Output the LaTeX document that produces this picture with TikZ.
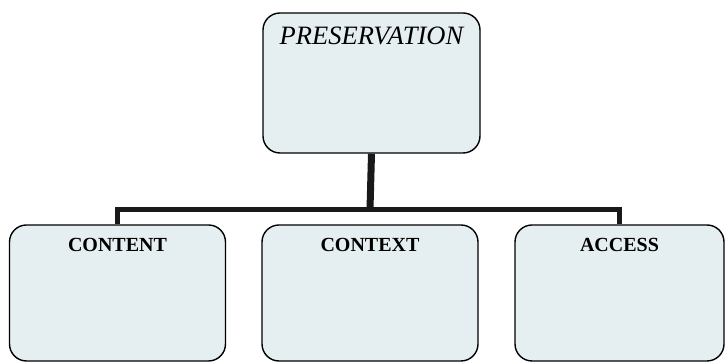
\documentclass[tikz,border=0pt]{standalone}
\usepackage{fontspec}
\setmainfont{Liberation Serif}
\usetikzlibrary{positioning}
\definecolor{boxfill}{RGB}{229,239,241}
\begin{document}
\begin{tikzpicture}[x=1pt,y=1pt,
    card/.style={draw, line width=1.4pt, fill=boxfill, rounded corners=17pt, minimum height=136pt, minimum width=216pt, inner sep=0pt},
    title/.style={anchor=north, inner sep=0pt, yshift=-14pt},
    bar/.style={line width=5pt, draw=black!90}]
  \useasboundingbox (0,0) rectangle (726,363);
  \clip (0,0) rectangle (726,363);
  % top box
  \node[card, minimum width=217pt, minimum height=140pt, label={[title]north:\fontsize{26.5}{30}\selectfont\itshape PRESERVATION}] (pres) at (371.5,280) {};
  % lower row
  \node[card, label={[title]north:\fontsize{20}{24}\selectfont\bfseries CONTENT}] (content) at (117.5,70) {};
  \node[card, label={[title]north:\fontsize{20}{24}\selectfont\bfseries CONTEXT}] (context) at (370,70) {};
  \node[card, minimum width=209pt, label={[title]north:\fontsize{20}{24}\selectfont\bfseries ACCESS}] (access) at (619.5,70) {};
  % tree lines
  \coordinate (hub) at ([yshift=15pt]context.north);
  \draw[bar, line width=7pt] (pres.south) -- (hub);
  \draw[bar] (content.north) |- (hub) -| (access.north);
\end{tikzpicture}
\end{document}
